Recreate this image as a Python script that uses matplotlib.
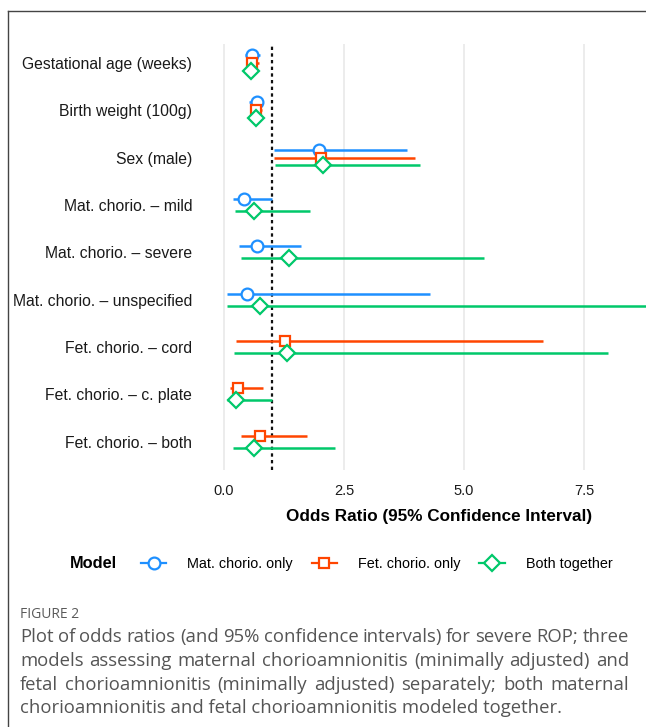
import numpy as np
import matplotlib
matplotlib.use("Agg")
import matplotlib.pyplot as plt
from matplotlib.lines import Line2D

plt.rcParams["font.family"] = ["Liberation Sans", "DejaVu Sans"]

labels = [
    "Gestational age (weeks)",
    "Birth weight (100g)",
    "Sex (male)",
    "Mat. chorio. \u2013 mild",
    "Mat. chorio. \u2013 severe",
    "Mat. chorio. \u2013 unspecified",
    "Fet. chorio. \u2013 cord",
    "Fet. chorio. \u2013 c. plate",
    "Fet. chorio. \u2013 both",
]
nan = np.nan

# model 1: maternal chorioamnionitis only
mat_or = [0.58, 0.68, 1.98, 0.42, 0.68, 0.47, nan, nan, nan]
mat_lo = [0.44, 0.53, 1.04, 0.18, 0.31, 0.07, nan, nan, nan]
mat_hi = [0.75, 0.82, 3.81, 1.01, 1.60, 4.29, nan, nan, nan]

# model 2: fetal chorioamnionitis only
fet_or = [0.58, 0.66, 2.03, nan, nan, nan, 1.27, 0.30, 0.76]
fet_lo = [0.47, 0.55, 1.04, nan, nan, nan, 0.25, 0.12, 0.35]
fet_hi = [0.73, 0.80, 3.98, nan, nan, nan, 6.65, 0.81, 1.72]

# model 3: both together
both_or = [0.56, 0.66, 2.07, 0.63, 1.35, 0.74, 1.31, 0.24, 0.63]
both_lo = [0.46, 0.56, 1.07, 0.23, 0.35, 0.07, 0.21, 0.07, 0.18]
both_hi = [0.68, 0.77, 4.08, 1.79, 5.42, 9.60, 7.99, 1.00, 2.32]

models = ["Mat. chorio. only", "Fet. chorio. only", "Both together"]
colors = ["#1E90FF", "#FF4500", "#00C86A"]
markers = ["o", "s", "D"]
msizes = [8.5, 7.5, 8.5]

series = [
    (np.array(mat_or), np.array(mat_lo), np.array(mat_hi)),
    (np.array(fet_or), np.array(fet_lo), np.array(fet_hi)),
    (np.array(both_or), np.array(both_lo), np.array(both_hi)),
]

W, H = 646, 727
fig = plt.figure(figsize=(W / 100, H / 100), dpi=100)

# panel runs past the right edge of the figure
left_px, right_px, top_px, bot_px = 213, 665, 44, 470
ax = fig.add_axes([left_px / W, 1 - bot_px / H,
                   (right_px - left_px) / W, (bot_px - top_px) / H])

# dodge like ggplot: width 0.5 split between the models present in a row
dodge = 0.5
present = np.array([[not np.isnan(s[0][i]) for s in series] for i in range(len(labels))])
ypos = np.full((3, len(labels)), nan)
for i in range(len(labels)):
    n = present[i].sum()
    k = 0
    for m in range(3):
        if present[i, m]:
            ypos[m, i] = i - dodge / 2 + dodge / n * (k + 0.5)
            k += 1

for x in [0, 2.5, 5.0, 7.5, 10.0]:
    ax.axvline(x, color="#EBEBEB", lw=1.3, zorder=0)
ax.axvline(1.0, color="#111111", lw=1.6, ls=(0, (1.5, 1.5)), zorder=1)

for m in range(3):
    orv, lo, hi = series[m]
    ax.hlines(ypos[m], lo, hi, color=colors[m], lw=1.8, zorder=2)
    ax.plot(orv, ypos[m], ls="none", marker=markers[m], ms=msizes[m],
            mfc="white", mec=colors[m], mew=1.6, zorder=3)

ax.set_xlim((left_px - 224) / 48, (right_px - 224) / 48)
ax.set_ylim(len(labels) - 0.4, -0.4)
ax.set_yticks(range(len(labels)))
ax.set_yticklabels(labels, fontsize=11.3, color="#1a1a1a")
ax.set_xticks([0, 2.5, 5.0, 7.5])
ax.set_xticklabels(["0.0", "2.5", "5.0", "7.5"], fontsize=10.5, color="#1a1a1a")
ax.tick_params(axis="y", length=0, pad=15)
ax.tick_params(axis="x", length=0, pad=10)
for sp in ax.spines.values():
    sp.set_visible(False)
ax.set_xlabel("Odds Ratio (95% Confidence Interval)", fontsize=12.3,
              fontweight="bold", labelpad=8)

# legend row
handles = [Line2D([0], [0], color=colors[m], lw=1.6, marker=markers[m],
                  ms=msizes[m], mfc="white", mec=colors[m], mew=1.6)
           for m in range(3)]
fig.text(70 / W, 1 - 564 / H, "Model", fontsize=11.8, fontweight="bold",
         va="center", ha="left")
fig.legend(handles, models, loc="center left", bbox_to_anchor=(141 / W, 1 - 564 / H),
           ncol=3, frameon=False, fontsize=10.4, handlelength=1.76,
           handletextpad=1.45, columnspacing=1.3, borderpad=0, borderaxespad=0)

# frame lines around the figure
fig.add_artist(Line2D([8 / W, 8 / W], [0, 1 - 11 / H], transform=fig.transFigure,
                      color="#444444", lw=1.0))
fig.add_artist(Line2D([8 / W, 1], [1 - 11 / H, 1 - 11 / H], transform=fig.transFigure,
                      color="#444444", lw=1.0))

# caption
cap_font = ["Open Sans", "DejaVu Sans"]
fig.text(20 / W, 1 - 615 / H, "FIGURE 2", fontsize=10, color="#5a5a5a",
         family=cap_font, va="center")
caption = [
    "Plot of odds ratios (and 95% confidence intervals) for severe ROP; three",
    "models assessing maternal chorioamnionitis (minimally adjusted) and",
    "fetal chorioamnionitis (minimally adjusted) separately; both maternal",
    "chorioamnionitis and fetal chorioamnionitis modeled together.",
]
cap_y = [637, 661, 685, 708]
cap_size = 13.3
x0, x1 = 20, 629
renderer = fig.canvas.get_renderer()
for line, y in zip(caption, cap_y):
    words = line.split(" ")
    if line is caption[-1]:
        fig.text(x0 / W, 1 - y / H, line, fontsize=cap_size, color="#555555",
                 family=cap_font, va="center")
        continue
    texts = [fig.text(0, 1 - y / H, w, fontsize=cap_size, color="#555555",
                      family=cap_font, va="center") for w in words]
    widths = [t.get_window_extent(renderer).width for t in texts]
    gap = (x1 - x0 - sum(widths)) / (len(words) - 1)
    xc = x0
    for t, w in zip(texts, widths):
        t.set_x(xc / W)
        xc += w + gap

fig.savefig("out.png", dpi=100)
